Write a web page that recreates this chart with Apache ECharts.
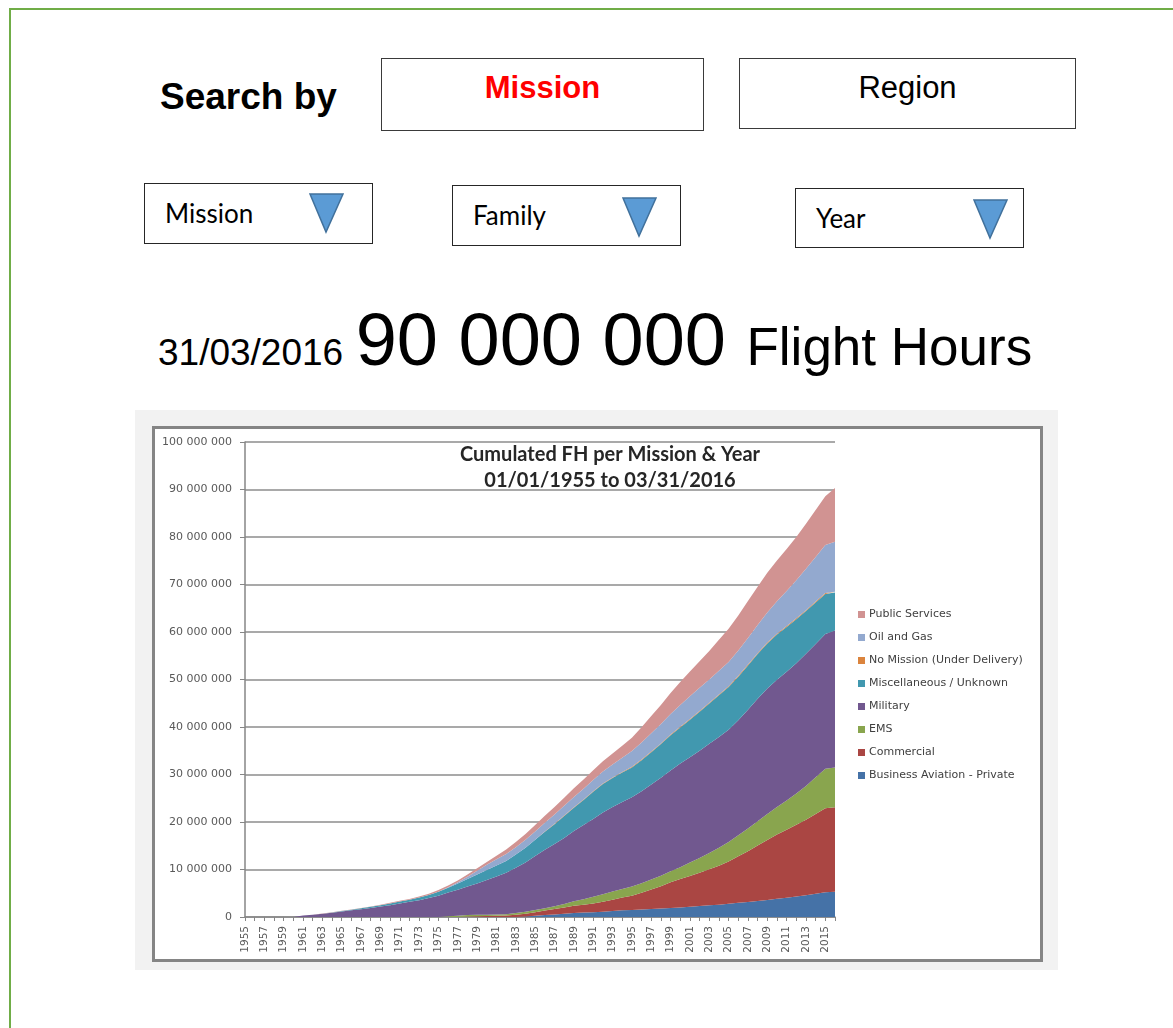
<!DOCTYPE html>
<html>
<head>
<meta charset="utf-8">
<script src="https://cdn.jsdelivr.net/npm/echarts@6/dist/echarts.min.js"></script>
<style>
  html, body { margin: 0; padding: 0; background: #fff; }
  #page { position: relative; width: 1173px; height: 1028px; overflow: hidden; font-family: "Liberation Sans", Arial, sans-serif; }
  .frame-top { position: absolute; left: 9px; top: 8px; width: 1164px; height: 2px; background: #70ad47; }
  .frame-left { position: absolute; left: 9px; top: 8px; width: 2px; height: 1020px; background: #70ad47; }
  .abs { position: absolute; }
  .btn { position: absolute; box-sizing: border-box; border: 1.5px solid #3a3a3a; text-align: center; font-size: 31px; line-height: 58px; }
  .dd { position: absolute; box-sizing: border-box; border: 1.5px solid #262626; font-family: Lato, "Open Sans", sans-serif; font-size: 26px; }
  .dd span { position: absolute; left: 20px; top: 13px; }
  .dd svg { position: absolute; }
  #headline { position: absolute; left: 158px; top: 297px; white-space: nowrap; color: #000; }
  #headline span { display: inline-block; vertical-align: baseline; }
  #chartBox { position: absolute; left: 135px; top: 410px; width: 923px; height: 560px; background: #f2f2f2; }
  #chartFrame { position: absolute; left: 17px; top: 16px; width: 885px; height: 530px; border: 3px solid #858585; background: #fff; }
  #chart { position: absolute; left: 0; top: 0; width: 885px; height: 530px; }
</style>
</head>
<body>
<div id="page">
  <div class="frame-top"></div>
  <div class="frame-left"></div>

  <div class="abs" style="left:160px; top:76px; font-size:37px; font-weight:bold;">Search by</div>
  <div class="btn" style="left:381px; top:58px; width:323px; height:73px; color:#ff0000; font-weight:bold; line-height:58px;">Mission</div>
  <div class="btn" style="left:739px; top:58px; width:337px; height:71px; line-height:58px;">Region</div>

  <div class="dd" style="left:144px; top:183px; width:229px; height:61px;">
    <span>Mission</span>
    <svg style="left:163px; top:8px;" width="38" height="42"><polygon points="2,2 35,2 18,40" fill="#5b9bd5" stroke="#41719c" stroke-width="1.5"/></svg>
  </div>
  <div class="dd" style="left:452px; top:185px; width:229px; height:61px;">
    <span>Family</span>
    <svg style="left:168px; top:10px;" width="38" height="42"><polygon points="2,2 35,2 18,40" fill="#5b9bd5" stroke="#41719c" stroke-width="1.5"/></svg>
  </div>
  <div class="dd" style="left:795px; top:188px; width:229px; height:60px;">
    <span>Year</span>
    <svg style="left:176px; top:9px;" width="38" height="42"><polygon points="2,2 35,2 18,40" fill="#5b9bd5" stroke="#41719c" stroke-width="1.5"/></svg>
  </div>

  <div id="headline">
    <span style="font-size:37px;">31/03/2016</span>
    <span style="font-size:74px; margin-left:8px;">90 000 000</span>
    <span style="font-size:53px; margin-left:16px;">Flight Hours</span>
  </div>

  <div id="chartBox">
    <div id="chartFrame"><div id="chart"></div></div>
  </div>
</div>

<script>
// cumulated flight hours, in millions, 1955 .. 2016
var years = [
  "1955","1956","1957","1958","1959","1960","1961","1962","1963","1964",
  "1965","1966","1967","1968","1969","1970","1971","1972","1973","1974",
  "1975","1976","1977","1978","1979","1980","1981","1982","1983","1984",
  "1985","1986","1987","1988","1989","1990","1991","1992","1993","1994",
  "1995","1996","1997","1998","1999","2000","2001","2002","2003","2004",
  "2005","2006","2007","2008","2009","2010","2011","2012","2013","2014",
  "2015","2016"
];

var businessAviation = [
  0, 0, 0, 0, 0, 0, 0, 0, 0, 0,
  0, 0, 0, 0, 0, 0, 0, 0, 0, 0,
  0, 0, 0, 0, 0, 0, 0, 0, 0, 0.1,
  0.25, 0.4, 0.55, 0.7, 0.85, 0.95, 1.0, 1.1, 1.25, 1.4,
  1.5, 1.6, 1.7, 1.8, 1.9, 2.0, 2.15, 2.3, 2.45, 2.6,
  2.8, 3.0, 3.15, 3.35, 3.6, 3.85, 4.05, 4.3, 4.6, 4.9,
  5.2, 5.3
];
var commercial = [
  0, 0, 0, 0, 0, 0, 0, 0, 0, 0,
  0, 0, 0, 0, 0, 0, 0, 0, 0, 0,
  0, 0, 0, 0.1, 0.15, 0.2, 0.25, 0.3, 0.5, 0.6,
  0.75, 0.95, 1.15, 1.3, 1.5, 1.65, 1.85, 2.1, 2.4, 2.7,
  3.0, 3.5, 4.1, 4.7, 5.4, 6.0, 6.5, 7.0, 7.6, 8.2,
  8.9, 9.8, 10.7, 11.7, 12.6, 13.5, 14.3, 15.1, 15.9, 16.8,
  17.7, 17.8
];
var ems = [
  0, 0, 0, 0, 0, 0, 0, 0, 0, 0,
  0, 0, 0, 0, 0, 0, 0, 0, 0, 0,
  0, 0.15, 0.25, 0.3, 0.3, 0.3, 0.3, 0.3, 0.35, 0.4,
  0.45, 0.5, 0.55, 0.75, 0.95, 1.15, 1.4, 1.6, 1.7, 1.8,
  1.9, 2.0, 2.1, 2.2, 2.35, 2.5, 2.8, 3.1, 3.4, 3.8,
  4.1, 4.4, 4.8, 5.1, 5.5, 5.8, 6.2, 6.6, 7.1, 7.7,
  8.3, 8.4
];
var military = [
  0, 0, 0, 0, 0, 0, 0.3, 0.5, 0.7, 0.9,
  1.15, 1.4, 1.65, 1.9, 2.2, 2.5, 2.85, 3.2, 3.55, 4.0,
  4.5, 5.0, 5.5, 6.0, 6.6, 7.3, 8.0, 8.7, 9.5, 10.4,
  11.4, 12.3, 13.1, 13.9, 14.8, 15.6, 16.4, 17.2, 17.8, 18.3,
  18.8, 19.4, 20.0, 20.6, 21.2, 21.8, 22.2, 22.6, 23.0, 23.3,
  23.6, 24.2, 25.0, 25.8, 26.4, 26.8, 27.1, 27.4, 27.8, 28.1,
  28.4, 28.8
];
var miscellaneous = [
  0, 0, 0, 0, 0, 0, 0, 0, 0, 0.05,
  0.1, 0.15, 0.2, 0.25, 0.3, 0.35, 0.4, 0.45, 0.55, 0.65,
  0.8, 1.0, 1.3, 1.6, 1.9, 2.1, 2.3, 2.5, 2.8, 3.1,
  3.4, 3.8, 4.2, 4.6, 4.9, 5.3, 5.7, 6.0, 6.1, 6.2,
  6.3, 6.5, 6.8, 7.1, 7.4, 7.6, 7.9, 8.2, 8.5, 8.8,
  9.0, 9.2, 9.3, 9.4, 9.5, 9.5, 9.4, 9.3, 9.0, 8.7,
  8.4, 8.0
];
var noMission = [
  0, 0, 0, 0, 0, 0, 0, 0, 0, 0,
  0, 0, 0, 0, 0, 0, 0, 0, 0, 0,
  0, 0, 0, 0, 0, 0, 0, 0, 0, 0,
  0, 0.05, 0.1, 0.1, 0.1, 0.1, 0.1, 0.1, 0.1, 0.15,
  0.15, 0.15, 0.15, 0.15, 0.15, 0.15, 0.15, 0.15, 0.15, 0.15,
  0.2, 0.2, 0.2, 0.2, 0.2, 0.2, 0.2, 0.2, 0.2, 0.2,
  0.2, 0.2
];
var oilAndGas = [
  0, 0, 0, 0, 0, 0, 0, 0, 0, 0,
  0, 0, 0, 0, 0, 0, 0, 0, 0, 0,
  0, 0.1, 0.25, 0.5, 0.8, 1.1, 1.3, 1.45, 1.55, 1.65,
  1.75, 1.85, 1.95, 2.05, 2.15, 2.25, 2.4, 2.55, 2.75, 3.0,
  3.3, 3.6, 3.85, 4.1, 4.35, 4.6, 4.8, 4.9, 4.9, 5.0,
  5.1, 5.3, 5.6, 5.9, 6.3, 6.8, 7.4, 8.0, 8.7, 9.4,
  10.1, 10.5
];
var publicServices = [
  0, 0, 0, 0, 0, 0, 0, 0, 0.05, 0.05,
  0.05, 0.05, 0.05, 0.05, 0.1, 0.15, 0.15, 0.15, 0.2, 0.25,
  0.4, 0.4, 0.4, 0.45, 0.5, 0.6, 0.75, 0.95, 1.1, 1.25,
  1.35, 1.45, 1.55, 1.7, 1.85, 1.95, 2.05, 2.15, 2.3, 2.5,
  2.8, 3.2, 3.6, 4.0, 4.4, 4.8, 5.2, 5.6, 6.0, 6.5,
  7.0, 7.4, 7.8, 8.1, 8.4, 8.6, 8.8, 9.1, 9.5, 9.9,
  10.3, 11.3
];

var seriesDefs = [
  { name: "Business Aviation - Private", values: businessAviation, color: "#4572a7" },
  { name: "Commercial", values: commercial, color: "#aa4643" },
  { name: "EMS", values: ems, color: "#89a54e" },
  { name: "Military", values: military, color: "#71588f" },
  { name: "Miscellaneous / Unknown", values: miscellaneous, color: "#4198af" },
  { name: "No Mission (Under Delivery)", values: noMission, color: "#db843d" },
  { name: "Oil and Gas", values: oilAndGas, color: "#93a9cf" },
  { name: "Public Services", values: publicServices, color: "#d19392" }
];

function spaced(v) {
  return String(v).replace(/\B(?=(\d{3})+(?!\d))/g, " ");
}

var chart = echarts.init(document.getElementById("chart"));

var option = {
  animation: false,
  grid: { left: 90, top: 13, width: 590, height: 475 },
  graphic: [
    {
      type: "text", x: 455, y: 13,
      style: {
        text: "Cumulated FH per Mission & Year\n01/01/1955 to 03/31/2016",
        align: "center", lineHeight: 26,
        font: "bold 20px Lato, 'Open Sans', sans-serif", fill: "#262626"
      }
    }
  ],
  legend: {
    orient: "vertical",
    left: 698, top: 175,
    icon: "rect", itemWidth: 7, itemHeight: 7, itemGap: 12,
    data: seriesDefs.map(function (s) { return s.name; }).reverse(),
    textStyle: { fontFamily: "DejaVu Sans", fontSize: 11, color: "#404040", padding: [0, 0, 0, -1] }
  },
  xAxis: {
    type: "category",
    data: years,
    boundaryGap: false,
    axisLine: { lineStyle: { color: "#868686", width: 1.5 } },
    axisTick: { show: true, interval: 0, length: 4, lineStyle: { color: "#868686" } },
    axisLabel: { interval: 1, rotate: 90, margin: 9, fontFamily: "DejaVu Sans", fontSize: 10.5, color: "#595959" },
    splitLine: { show: false }
  },
  yAxis: {
    type: "value",
    min: 0, max: 100000000, interval: 10000000,
    axisLine: { show: true, lineStyle: { color: "#868686", width: 1.5 } },
    axisTick: { show: true, length: 5, lineStyle: { color: "#868686" } },
    axisLabel: { formatter: spaced, margin: 13, fontFamily: "DejaVu Sans", fontSize: 11, color: "#595959" },
    splitLine: { lineStyle: { color: "#8c8c8c", width: 1.5 } }
  },
  series: seriesDefs.map(function (s) {
    return {
      name: s.name,
      type: "line",
      stack: "fh",
      symbol: "none",
      color: s.color,
      lineStyle: { width: 0 },
      areaStyle: { color: s.color, opacity: 1 },
      data: s.values.map(function (v) { return Math.round(v * 1000000); })
    };
  })
};

chart.setOption(option);
</script>
</body>
</html>
